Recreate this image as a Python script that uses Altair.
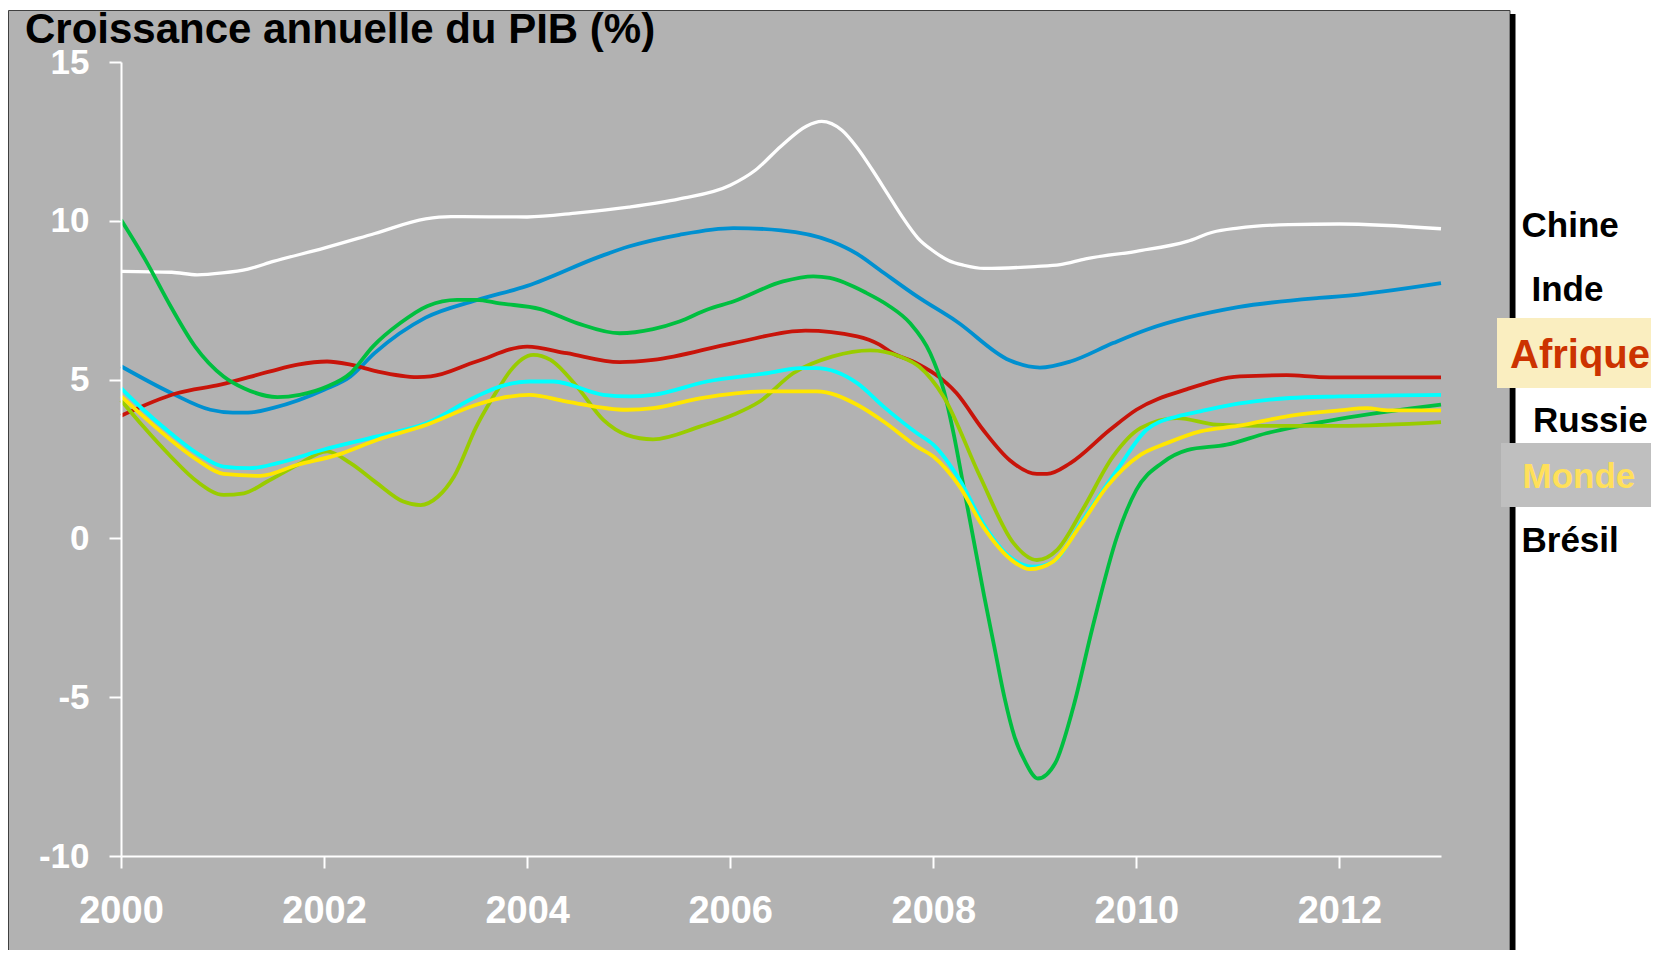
import altair as alt
import pandas as pd

# ---- data ----
chine_x = [2000, 2000.5, 2000.75, 2001, 2001.25, 2001.5, 2002, 2002.5, 2003, 2003.25, 2004, 2004.5, 2005, 2005.5,
           2006, 2006.25, 2006.5, 2006.75, 2006.9, 2007.1, 2007.25, 2007.4, 2007.55, 2007.7, 2007.85, 2008,
           2008.15, 2008.3, 2008.5, 2009, 2009.25, 2009.5, 2010, 2010.5, 2010.75, 2011, 2011.5, 2012, 2013]
chine_y = [8.41, 8.38, 8.30, 8.36, 8.48, 8.72, 9.14, 9.6, 10.06, 10.13, 10.12, 10.25, 10.43, 10.69,
           11.12, 11.6, 12.35, 12.98, 13.13, 12.85, 12.3, 11.6, 10.85, 10.1, 9.45, 9.05,
           8.75, 8.6, 8.5, 8.56, 8.62, 8.8, 9.04, 9.35, 9.64, 9.77, 9.88, 9.9, 9.75]

inde_x = [2000, 2000.5, 2000.88, 2001.1, 2001.25, 2001.5, 2002, 2002.26, 2002.5, 2003, 2003.5, 2004, 2004.72,
          2005, 2005.5, 2006.03, 2006.5, 2007, 2007.25, 2007.47, 2007.84, 2008.23, 2008.75, 2009.05, 2009.35,
          2009.77, 2010.1, 2011, 2011.8, 2012, 2013]
inde_y = [5.42, 4.57, 4.05, 3.96, 3.96, 4.11, 4.68, 5.1, 5.84, 6.95, 7.5, 7.95, 8.88,
          9.19, 9.56, 9.77, 9.70, 9.35, 8.96, 8.46, 7.62, 6.83, 5.61, 5.38, 5.57,
          6.15, 6.57, 7.28, 7.57, 7.62, 8.04]

afrique_x = [2000, 2000.55, 2000.98, 2001.47, 2001.74, 2002.03, 2002.26, 2002.52, 2002.92, 2003.05, 2003.5, 2004,
             2004.39, 2004.91, 2005.24, 2006.03, 2006.74, 2007.25, 2007.47, 2007.6, 2007.8, 2008.23, 2008.49,
             2008.75, 2009.02, 2009.12, 2009.35, 2009.74, 2010, 2010.5, 2011.02, 2011.48, 2011.8, 2012, 2013]
afrique_y = [3.86, 4.57, 4.84, 5.26, 5.47, 5.57, 5.47, 5.26, 5.08, 5.10, 5.57, 6.04,
             5.83, 5.55, 5.62, 6.15, 6.54, 6.36, 6.10, 5.83, 5.57, 4.57, 3.42,
             2.47, 2.03, 2.03, 2.37, 3.42, 4.05, 4.70, 5.10, 5.14, 5.08, 5.07, 5.07]

russie_x = [2000, 2000.24, 2000.49, 2000.73, 2001.01, 2001.21, 2001.54, 2001.76, 2002.03, 2002.26, 2002.48, 2002.75,
            2003.02, 2003.31, 2003.5, 2003.73, 2004.13, 2004.49, 2004.91, 2005.24, 2005.5, 2005.77, 2006.03,
            2006.52, 2006.82, 2006.98, 2007.34, 2007.55, 2007.77, 2007.97, 2008.1, 2008.2, 2008.3, 2008.4,
            2008.5, 2008.6, 2008.7, 2008.8, 2008.9, 2009.03, 2009.2, 2009.38, 2009.57, 2009.81, 2010,
            2010.25, 2010.5, 2010.89, 2011.28, 2012, 2013]
russie_y = [10.03, 8.77, 7.30, 6.04, 5.10, 4.73, 4.45, 4.52, 4.78, 5.20, 6.04, 6.78,
            7.32, 7.51, 7.51, 7.40, 7.22, 6.78, 6.46, 6.59, 6.83, 7.20, 7.46,
            8.09, 8.25, 8.20, 7.73, 7.35, 6.78, 5.83, 4.7, 3.3, 1.6, -0.1,
            -1.8, -3.4, -5.0, -6.25, -7.0, -7.56, -7.08, -5.3, -2.78, 0.06, 1.53,
            2.37, 2.78, 2.95, 3.31, 3.76, 4.21]

monde_x = [2000, 2000.22, 2000.49, 2000.75, 2001.01, 2001.37, 2001.74, 2002.13, 2002.52, 2003.01, 2003.5, 2003.73,
           2004.02, 2004.39, 2004.98, 2005.24, 2005.7, 2006.36, 2006.85, 2007.25, 2007.51, 2007.84, 2008,
           2008.26, 2008.49, 2008.79, 2008.95, 2009.18, 2009.44, 2009.71, 2010.04, 2010.3, 2010.63, 2011,
           2011.51, 2012, 2012.27, 2012.49, 2013]
monde_y = [4.48, 3.84, 3.1, 2.47, 2.03, 1.97, 2.32, 2.63, 3.1, 3.58, 4.21, 4.41,
           4.52, 4.31, 4.05, 4.1, 4.41, 4.63, 4.63, 4.21, 3.68, 2.89, 2.58,
           1.63, 0.37, -0.73, -0.97, -0.73, 0.37, 1.63, 2.63, 3.0, 3.37, 3.54,
           3.86, 4.03, 4.1, 4.03, 4.03]

autre_x = [2000, 2000.22, 2000.49, 2000.75, 2001.01, 2001.27, 2001.54, 2001.99, 2002.52, 2003.01, 2003.5, 2003.73,
           2004.02, 2004.26, 2004.75, 2005.01, 2005.24, 2005.77, 2006.36, 2006.69, 2006.85, 2007.25, 2007.51,
           2007.84, 2008, 2008.26, 2008.49, 2008.75, 2008.98, 2009.18, 2009.47, 2009.81, 2010.1, 2010.4,
           2010.63, 2011, 2011.51, 2012, 2013]
autre_y = [4.73, 4.05, 3.31, 2.68, 2.26, 2.21, 2.37, 2.79, 3.21, 3.63, 4.47, 4.78,
           4.94, 4.94, 4.52, 4.47, 4.52, 4.94, 5.2, 5.36, 5.36, 4.89, 4.15,
           3.31, 2.95, 1.84, 0.48, -0.57, -0.89, -0.73, 0.58, 2.16, 3.42, 3.84,
           4.0, 4.24, 4.42, 4.47, 4.52]

bresil_x = [2000, 2000.22, 2000.49, 2000.75, 2001.01, 2001.21, 2001.44, 2001.74, 2002.03, 2002.26, 2002.52, 2002.78,
            2002.95, 2003.12, 2003.28, 2003.5, 2003.73, 2003.83, 2004.06, 2004.23, 2004.49, 2004.75, 2004.98,
            2005.24, 2005.7, 2006.03, 2006.29, 2006.62, 2007.01, 2007.38, 2007.67, 2007.86, 2008.1, 2008.46,
            2008.79, 2009.02, 2009.22, 2009.47, 2009.77, 2010.04, 2010.4, 2010.79, 2011.28, 2012, 2013]
bresil_y = [4.35, 3.52, 2.58, 1.79, 1.37, 1.42, 1.79, 2.32, 2.74, 2.37, 1.74, 1.16,
            1.05, 1.31, 1.95, 3.52, 4.78, 5.26, 5.78, 5.62, 4.78, 3.73, 3.26,
            3.12, 3.52, 3.89, 4.31, 5.2, 5.73, 5.92, 5.73, 5.41, 4.47, 1.95,
            -0.15, -0.68, -0.36, 0.9, 2.58, 3.47, 3.79, 3.58, 3.54, 3.54, 3.66]

series_names = ["Chine", "Inde", "Afrique", "Russie", "Brésil", "Autre", "Monde"]
series_x = [chine_x, inde_x, afrique_x, russie_x, bresil_x, autre_x, monde_x]
series_y = [chine_y, inde_y, afrique_y, russie_y, bresil_y, autre_y, monde_y]
series_colors = ["#FFFFFF", "#0090D0", "#C8140A", "#00BF40", "#99CC00", "#00FFFF", "#FFE600"]
series_widths = [3.3, 3.8, 3.8, 3.8, 3.8, 3.8, 3.8]

x_ticks = [2000, 2002, 2004, 2006, 2008, 2010, 2012]
y_ticks = [-10, -5, 0, 5, 10, 15]

title_text = "Croissance annuelle du PIB (%)"
label_names = ["Chine", "Inde", "Afrique", "Russie", "Monde", "Brésil"]

rows = []
for name, xs, ys in zip(series_names, series_x, series_y):
    for xv, yv in zip(xs, ys):
        rows.append({"serie": name, "annee": xv, "pib": yv})
df = pd.DataFrame(rows)

FONT = "Liberation Sans"
W, H = 1320, 794

x_enc = alt.X("annee:Q",
              scale=alt.Scale(domain=[2000, 2013], nice=False, zero=False),
              axis=alt.Axis(values=x_ticks, format="d", title=None, grid=False,
                            domainColor="white", domainWidth=2, tickColor="white",
                            tickWidth=2, tickSize=12, labelColor="white",
                            labelFont=FONT, labelFontWeight="bold", labelFontSize=38,
                            labelPadding=24, labelFlush=False, labelOverlap=False, zindex=2))
y_enc = alt.Y("pib:Q",
              scale=alt.Scale(domain=[-10, 15], nice=False, zero=False),
              axis=alt.Axis(values=y_ticks, title=None, grid=False,
                            labelExpr="'' + datum.value",
                            domainColor="white", domainWidth=2, tickColor="white",
                            tickWidth=2, tickSize=12, labelColor="white",
                            labelFont=FONT, labelFontWeight="bold", labelFontSize=35,
                            labelPadding=20, labelFlush=False, labelOverlap=False, zindex=2))

one = pd.DataFrame({"k": [0]})


def rect(x1, x2, y1, y2, fill, stroke=None):
    kw = dict(fill=fill)
    if stroke:
        kw.update(stroke=stroke, strokeWidth=1)
    else:
        kw.update(strokeWidth=0)
    return alt.Chart(one).mark_rect(**kw).encode(
        x=alt.value(x1), x2=alt.value(x2), y=alt.value(y1), y2=alt.value(y2))


def label(txt, x, y, color, size):
    return alt.Chart(one).mark_text(
        text=txt, align="left", baseline="alphabetic", font=FONT, fontWeight="bold",
        fontSize=size, color=color).encode(x=alt.value(x), y=alt.value(y))


panel = rect(-112.5, 1389, -51.5, 920, "#B2B2B2", "#404040")
shadow = rect(1389, 1394.5, -48, 920, "#000000")
box_afr = rect(1376, 1540, 256, 326, "#FAEEC0")
box_mon = rect(1380, 1540, 381, 445, "#BFBFBF")

lines = []
for name, col, sw in zip(series_names, series_colors, series_widths):
    lines.append(
        alt.Chart(df).transform_filter(alt.datum.serie == name)
        .mark_line(color=col, strokeWidth=sw, interpolate="monotone")
        .encode(x=x_enc, y=y_enc)
    )

texts = [
    label(title_text, -96, -19, "#000000", 42),
    label(label_names[0], 1400.5, 175, "#000000", 35),
    label(label_names[1], 1410.5, 239, "#000000", 35),
    label(label_names[2], 1389, 306, "#CC3300", 40),
    label(label_names[3], 1412, 370, "#000000", 35),
    label(label_names[4], 1401.5, 426, "#FFE05A", 35),
    label(label_names[5], 1400.5, 490, "#000000", 35),
]

chart = alt.layer(panel, shadow, box_afr, box_mon, *lines, *texts).properties(
    width=W, height=H,
    autosize=alt.AutoSizeParams(type="none"),
    padding={"left": 113, "top": 54, "right": 210, "bottom": 94},
    background="white",
).configure_view(strokeWidth=0)

chart.save("out.html", embed_options={"renderer": "svg", "actions": False})
